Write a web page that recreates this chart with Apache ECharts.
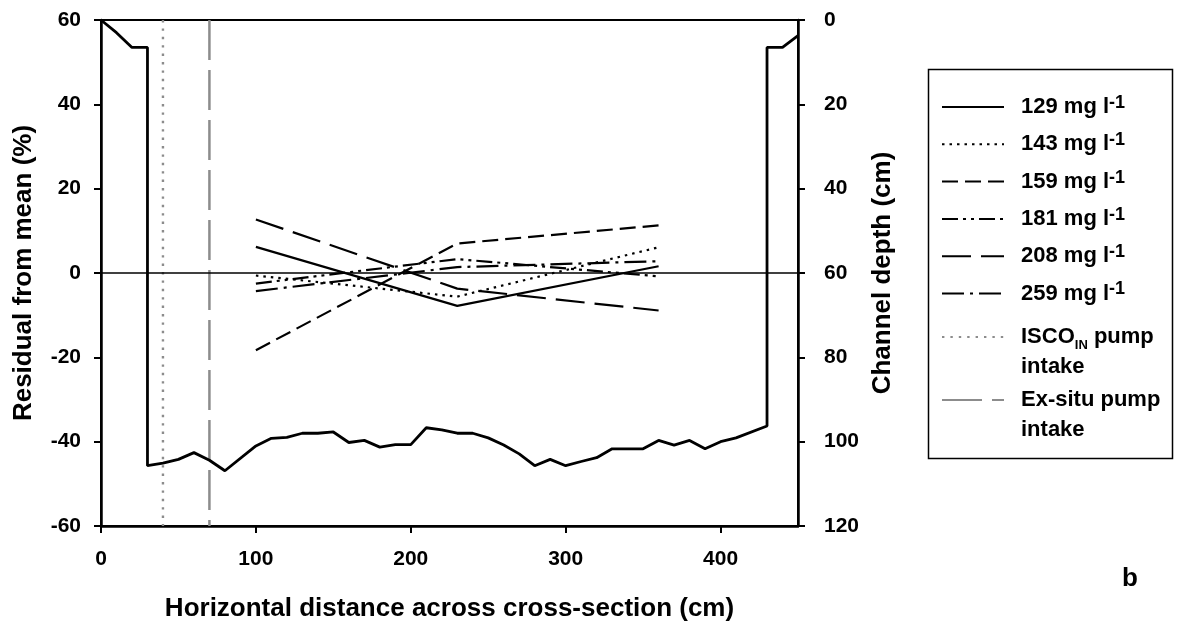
<!DOCTYPE html>
<html>
<head>
<meta charset="utf-8">
<script src="https://cdn.jsdelivr.net/npm/echarts@6/dist/echarts.min.js"></script>
<style>
html,body{margin:0;padding:0;background:#fff;}
#chart{width:1190px;height:621px;}
</style>
</head>
<body>
<div id="chart"></div>
<script>
// ---- data ----
var sampleX = [100, 230, 360];
var r129 = [6.2, -7.8, 1.6];
var r143 = [-0.6, -5.6, 6.1];
var r159 = [-18.3, 7.0, 11.3];
var r181 = [-2.5, 3.3, -0.8];
var r208 = [12.7, -3.7, -8.9];
var r259 = [-4.3, 1.4, 2.8];

var profileX = [0, 10, 20, 30, 30, 40, 50, 60, 70, 80, 100, 110, 120, 130, 140, 150, 160, 170, 180, 190, 200, 210, 220, 230, 240, 250, 260, 270, 280, 290, 300, 310, 320, 330, 340, 350, 360, 370, 380, 390, 400, 410, 430, 430, 440, 450];
var profileDepth = [0, 3, 6.5, 6.5, 105.7, 105.1, 104.2, 102.6, 104.4, 106.9, 101, 99.2, 99, 98, 98, 97.7, 100.2, 99.7, 101.3, 100.7, 100.7, 96.7, 97.2, 98, 98, 99.1, 100.8, 102.9, 105.7, 104.2, 105.7, 104.7, 103.8, 101.7, 101.7, 101.7, 99.7, 100.8, 99.7, 101.7, 100, 99.1, 96.3, 6.5, 6.5, 3.7];

var iscoX = 40;
var exsituX = 70;
var intakeSpan = [60, -60];

var xTicks = {min: 0, max: 450, interval: 100};
var leftTicks = {min: -60, max: 60, interval: 20};
var rightTicks = {min: 0, max: 120, interval: 20};

var names = ['129', '143', '159', '181', '208', '259'];
var values = [r129, r143, r159, r181, r208, r259];
var dashes = ['solid', [2.5, 5], [16, 7], [16, 5, 3, 5, 3, 5], [29, 10], [22, 6, 3, 6]];

function pairs(xs, ys) { return xs.map(function (x, i) { return [x, ys[i]]; }); }

var FONT = '"Liberation Sans", Arial, sans-serif';
var rich = {
  b: {fontSize: 22, fontWeight: 'bold', fontFamily: FONT, color: '#000', lineHeight: 26},
  sup: {fontSize: 18, fontWeight: 'bold', fontFamily: FONT, color: '#000', verticalAlign: 'top', lineHeight: 14},
  sub: {fontSize: 13, fontWeight: 'bold', fontFamily: FONT, color: '#000', verticalAlign: 'bottom', lineHeight: 14}
};
var rich2 = {
  b: {fontSize: 22, fontWeight: 'bold', fontFamily: FONT, color: '#000', lineHeight: 30},
  sub: {fontSize: 13, fontWeight: 'bold', fontFamily: FONT, color: '#000', verticalAlign: 'bottom', lineHeight: 16}
};

var series = [];
names.forEach(function (n, i) {
  var s = {
    name: n + ' mg l-1',
    type: 'line',
    xAxisIndex: 0, yAxisIndex: 0,
    data: pairs(sampleX, values[i]),
    symbol: 'none',
    lineStyle: {color: '#000', width: 2.2, type: dashes[i]},
    itemStyle: {color: '#000'},
    z: 3
  };
  if (i === 0) {
    s.markLine = {
      silent: true, symbol: ['none', 'none'], label: {show: false},
      lineStyle: {color: '#000', type: 'solid', width: 1.5},
      data: [{yAxis: 0}]
    };
  }
  series.push(s);
});
series.push({
  name: 'ISCO', type: 'line', yAxisIndex: 0,
  data: [[iscoX, intakeSpan[0]], [iscoX, intakeSpan[1]]],
  symbol: 'none',
  lineStyle: {color: '#8c8c8c', width: 2.4, type: [2.4, 6]},
  itemStyle: {color: '#8c8c8c'}, z: 2
});
series.push({
  name: 'Ex-situ', type: 'line', yAxisIndex: 0,
  data: [[exsituX, intakeSpan[0]], [exsituX, intakeSpan[1]]],
  symbol: 'none',
  lineStyle: {color: '#8c8c8c', width: 2.5, type: [40, 10]},
  itemStyle: {color: '#8c8c8c'}, z: 2
});
series.push({
  name: 'Channel', type: 'line', yAxisIndex: 1,
  data: pairs(profileX, profileDepth),
  symbol: 'none',
  lineStyle: {color: '#000', width: 2.8},
  itemStyle: {color: '#000'}, z: 4
});

var axisLabelStyle = {color: '#000', fontSize: 21, fontWeight: 'bold', fontFamily: FONT};
var nameStyle = {color: '#000', fontSize: 26, fontWeight: 'bold', fontFamily: FONT};
var hiddenSymbol = {opacity: 0, color: 'rgba(0,0,0,0)', borderWidth: 0};

var option = {
  animation: false,
  backgroundColor: '#fff',
  grid: {left: 101, right: 392, top: 20, bottom: 95, outerBoundsMode: 'none', containLabel: false,
         show: true, borderColor: '#000', borderWidth: 2, backgroundColor: 'transparent'},
  xAxis: {
    type: 'value', min: xTicks.min, max: xTicks.max, interval: xTicks.interval,
    name: 'Horizontal distance across cross-section (cm)', nameLocation: 'middle', nameGap: 70,
    nameTextStyle: nameStyle,
    axisLine: {onZero: false, lineStyle: {color: '#000', width: 2.5}},
    axisTick: {show: true, length: 7, lineStyle: {color: '#000', width: 2}},
    axisLabel: Object.assign({margin: 23, showMaxLabel: false}, axisLabelStyle),
    splitLine: {show: false}
  },
  yAxis: [{
    type: 'value', position: 'left', min: leftTicks.min, max: leftTicks.max, interval: leftTicks.interval,
    name: 'Residual from mean (%)', nameLocation: 'middle', nameGap: 64, nameRotate: 90,
    nameTextStyle: nameStyle,
    axisLine: {show: true, onZero: false, lineStyle: {color: '#000', width: 2.5}},
    axisTick: {show: true, length: 7, lineStyle: {color: '#000', width: 2}},
    axisLabel: Object.assign({margin: 20}, axisLabelStyle),
    splitLine: {show: false}
  }, {
    type: 'value', position: 'right', min: rightTicks.min, max: rightTicks.max, interval: rightTicks.interval, inverse: true,
    name: 'Channel depth (cm)', nameLocation: 'middle', nameGap: 72, nameRotate: 90,
    nameTextStyle: nameStyle,
    axisLine: {show: true, onZero: false, lineStyle: {color: '#000', width: 2.5}},
    axisTick: {show: true, length: 7, lineStyle: {color: '#000', width: 2}},
    axisLabel: Object.assign({margin: 26}, axisLabelStyle),
    splitLine: {show: false}
  }],
  legend: [{
    orient: 'vertical', left: 941, top: 94, padding: 0,
    itemWidth: 62, itemHeight: 14, itemGap: 13.3,
    itemStyle: hiddenSymbol,
    data: names.map(function (n) { return n + ' mg l-1'; }),
    formatter: function (name) { return '{b|' + name.split(' ')[0] + ' mg l}{sup|-1}'; },
    textStyle: {rich: rich, padding: [0, 0, 0, 12]},
    selectedMode: false
  }, {
    orient: 'vertical', left: 941, top: 292, padding: 0,
    itemWidth: 62, itemHeight: 14,
    itemStyle: hiddenSymbol,
    data: ['ISCO'],
    formatter: function () { return '{b| }\n{b|ISCO}{sub|IN}{b| pump}\n{b|intake}'; },
    textStyle: {rich: rich2, padding: [0, 0, 0, 12], lineHeight: 30},
    selectedMode: false
  }, {
    orient: 'vertical', left: 941, top: 355, padding: 0,
    itemWidth: 62, itemHeight: 14,
    itemStyle: hiddenSymbol,
    data: ['Ex-situ'],
    formatter: function () { return '{b| }\n{b|Ex-situ pump}\n{b|intake}'; },
    textStyle: {rich: rich2, padding: [0, 0, 0, 12], lineHeight: 30},
    selectedMode: false
  }],
  graphic: [{
    type: 'rect', left: 926, top: 67, silent: true,
    shape: {width: 244, height: 389},
    style: {fill: 'none', stroke: '#000', lineWidth: 1.5}
  }, {
    type: 'text', left: 1122, top: 566, silent: true,
    style: {text: 'b', font: 'bold 26px ' + FONT, fill: '#000'}
  }],
  series: series
};

var chart = echarts.init(document.getElementById('chart'), null, {renderer: 'canvas'});
chart.setOption(option);
</script>
</body>
</html>
